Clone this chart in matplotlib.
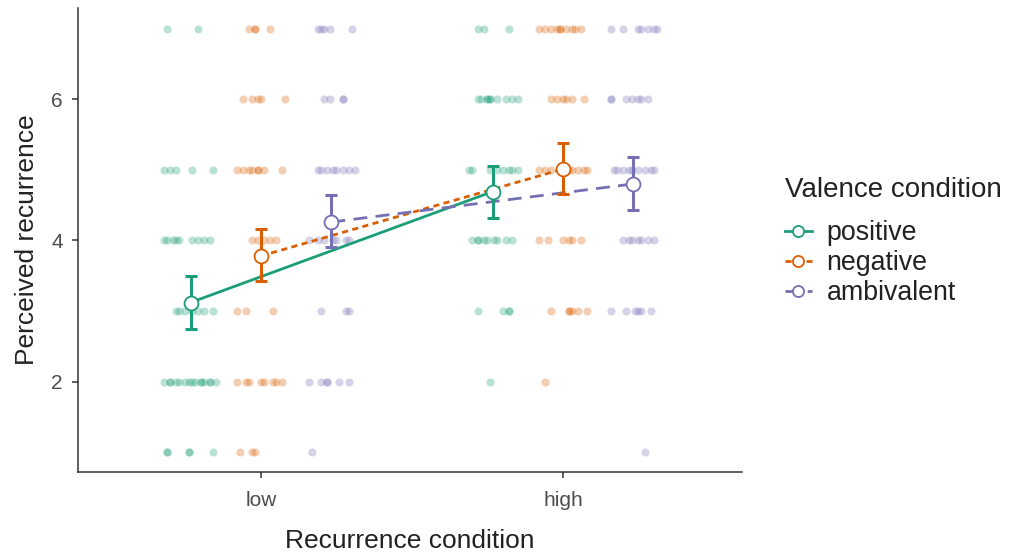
import numpy as np
import matplotlib
matplotlib.use("Agg")
import matplotlib.pyplot as plt
from matplotlib.lines import Line2D

plt.rcParams['font.family'] = ['Liberation Sans', 'DejaVu Sans']

# --- données ---
conditions = ["low", "high"]
valences = ["positive", "negative", "ambivalent"]
colors = {"positive": "#1B9E77", "negative": "#D95F02", "ambivalent": "#7570B3"}

# moyennes et IC (low, high)
mean_pos = [3.12, 4.69]
lo_pos = [2.75, 4.32]
hi_pos = [3.50, 5.06]
mean_neg = [3.78, 5.01]
lo_neg = [3.43, 4.66]
hi_neg = [4.16, 5.38]
mean_amb = [4.26, 4.80]
lo_amb = [3.90, 4.43]
hi_amb = [4.64, 5.18]

# observations brutes (x déjà jitterées, y = réponse)
pos_x = [0.69, 0.79,
         0.68, 0.70, 0.72, 0.77, 0.84,
         0.68, 0.69, 0.71, 0.72, 0.73, 0.77, 0.79, 0.81, 0.83,
         0.72, 0.73, 0.75, 0.77, 0.79, 0.81, 0.84,
         0.68, 0.70, 0.70, 0.72, 0.73, 0.75, 0.76, 0.77, 0.78, 0.80, 0.80, 0.81, 0.83, 0.83, 0.85,
         0.69, 0.69, 0.76, 0.76, 0.84,
         1.72, 1.74, 1.82,
         1.72, 1.73, 1.75, 1.75, 1.76, 1.76, 1.78, 1.81, 1.83, 1.85,
         1.69, 1.70, 1.76, 1.78, 1.80, 1.82, 1.83, 1.85,
         1.70, 1.72, 1.72, 1.74, 1.75, 1.77, 1.78, 1.81, 1.83,
         1.72, 1.80, 1.82, 1.82,
         1.76]
pos_y = [7, 7,
         5, 5, 5, 5, 5,
         4, 4, 4, 4, 4, 4, 4, 4, 4,
         3, 3, 3, 3, 3, 3, 3,
         2, 2, 2, 2, 2, 2, 2, 2, 2, 2, 2, 2, 2, 2, 2,
         1, 1, 1, 1, 1,
         7, 7, 7,
         6, 6, 6, 6, 6, 6, 6, 6, 6, 6,
         5, 5, 5, 5, 5, 5, 5, 5,
         4, 4, 4, 4, 4, 4, 4, 4, 4,
         3, 3, 3, 3,
         2]

neg_x = [0.96, 0.98, 0.98, 1.03,
         0.94, 0.97, 0.99, 1.00, 1.08,
         0.92, 0.94, 0.96, 0.97, 0.99, 0.99, 1.01, 1.07,
         0.97, 0.99, 1.01, 1.03, 1.05,
         0.92, 0.95, 1.04,
         0.92, 0.95, 0.96, 1.00, 1.01, 1.04, 1.05, 1.07,
         0.93, 0.97, 0.98,
         1.92, 1.94, 1.96, 1.98, 1.99, 1.99, 2.01, 2.03, 2.04, 2.06,
         1.96, 1.98, 2.00, 2.01, 2.03, 2.07,
         1.92, 1.94, 1.96, 1.99, 2.02, 2.03, 2.05, 2.07, 2.08,
         1.92, 1.95, 2.00, 2.02, 2.03, 2.06,
         1.96, 2.02, 2.02, 2.03, 2.05, 2.08,
         1.94]
neg_y = [7, 7, 7, 7,
         6, 6, 6, 6, 6,
         5, 5, 5, 5, 5, 5, 5, 5,
         4, 4, 4, 4, 4,
         3, 3, 3,
         2, 2, 2, 2, 2, 2, 2, 2,
         1, 1, 1,
         7, 7, 7, 7, 7, 7, 7, 7, 7, 7,
         6, 6, 6, 6, 6, 6,
         5, 5, 5, 5, 5, 5, 5, 5, 5,
         4, 4, 4, 4, 4, 4,
         3, 3, 3, 3, 3, 3,
         2]

amb_x = [1.19, 1.20, 1.21, 1.23, 1.30,
         1.21, 1.23, 1.27, 1.27,
         1.19, 1.20, 1.22, 1.24, 1.25, 1.27, 1.29, 1.31,
         1.16, 1.19, 1.21, 1.24, 1.25, 1.28, 1.29,
         1.20, 1.28, 1.29,
         1.16, 1.20, 1.22, 1.22, 1.26, 1.29,
         1.17,
         2.16, 2.20, 2.25, 2.26, 2.28, 2.30, 2.31,
         2.16, 2.16, 2.21, 2.23, 2.25, 2.26, 2.28,
         2.17, 2.18, 2.20, 2.22, 2.23, 2.25, 2.27, 2.29, 2.30,
         2.20, 2.22, 2.23, 2.25, 2.26, 2.28, 2.30,
         2.16, 2.21, 2.24, 2.25, 2.26, 2.29,
         2.27]
amb_y = [7, 7, 7, 7, 7,
         6, 6, 6, 6,
         5, 5, 5, 5, 5, 5, 5, 5,
         4, 4, 4, 4, 4, 4, 4,
         3, 3, 3,
         2, 2, 2, 2, 2, 2,
         1,
         7, 7, 7, 7, 7, 7, 7,
         6, 6, 6, 6, 6, 6, 6,
         5, 5, 5, 5, 5, 5, 5, 5, 5,
         4, 4, 4, 4, 4, 4, 4,
         3, 3, 3, 3, 3, 3,
         1]

dodge = 0.7 / 3
offsets = {"positive": -dodge, "negative": 0.0, "ambivalent": dodge}
raw = {"positive": (pos_x, pos_y), "negative": (neg_x, neg_y), "ambivalent": (amb_x, amb_y)}
summ = {"positive": (mean_pos, lo_pos, hi_pos),
        "negative": (mean_neg, lo_neg, hi_neg),
        "ambivalent": (mean_amb, lo_amb, hi_amb)}
styles = {"positive": "-", "negative": (0, (2.2, 1.6)), "ambivalent": (0, (5, 3))}

fig = plt.figure(figsize=(10.1, 5.55), dpi=100)
ax = fig.add_axes([0.0772, 0.1495, 0.6575, 0.836])

base = np.arange(1, len(conditions) + 1)
for v in valences:
    c = colors[v]
    xs, ys = raw[v]
    ax.scatter(xs, ys, s=34, color=c, alpha=0.3, linewidths=0, zorder=1)

for v in valences:
    c = colors[v]
    m, lo, hi = summ[v]
    x = base + offsets[v]
    m = np.array(m); lo = np.array(lo); hi = np.array(hi)
    ax.plot(x, m, color=c, lw=2.0, linestyle=styles[v], zorder=2)
    ax.errorbar(x, m, yerr=[m - lo, hi - m], fmt='none', ecolor=c,
                elinewidth=2.2, capsize=4.5, capthick=2.2, zorder=3)
    ax.plot(x, m, 'o', ms=10, mfc='white', mec=c, mew=1.3, zorder=4)

ax.set_xlim(0.394, 2.593)
ax.set_ylim(0.72, 7.29)
ax.set_xticks(base)
ax.set_xticklabels(conditions)
ax.set_yticks([2, 4, 6])
for s in ["top", "right"]:
    ax.spines[s].set_visible(False)
for s in ["left", "bottom"]:
    ax.spines[s].set_color("#333333")
    ax.spines[s].set_linewidth(1.1)
ax.tick_params(colors="#333333", length=4, width=1.1, labelsize=15, labelcolor="#4d4d4d")
ax.tick_params(axis="x", pad=10)
ax.tick_params(axis="y", pad=7)
ax.set_xlabel("Recurrence condition", fontsize=19, labelpad=13, color="#222222")
ax.set_ylabel("Perceived recurrence", fontsize=19, labelpad=9, color="#222222")

# légende : titre séparé pour régler l'écart
fig.text(785 / 1010, 1 - 190 / 555, "Valence condition", fontsize=20,
         color="#222222", ha="left", va="center")
handles = [Line2D([0], [0], color=colors[v], lw=2.0, linestyle=styles[v], marker='o',
                  ms=8, mfc='white', mec=colors[v], mew=1.3) for v in valences]
leg = fig.legend(handles, valences, loc="upper left",
                 bbox_to_anchor=(785 / 1010, 1 - 220 / 555), frameon=False, fontsize=19.3,
                 handlelength=1.0, handletextpad=0.55,
                 labelspacing=0.15, borderaxespad=0, borderpad=0)
for t in leg.get_texts():
    t.set_color("#222222")

fig.savefig("out.png", dpi=100)
